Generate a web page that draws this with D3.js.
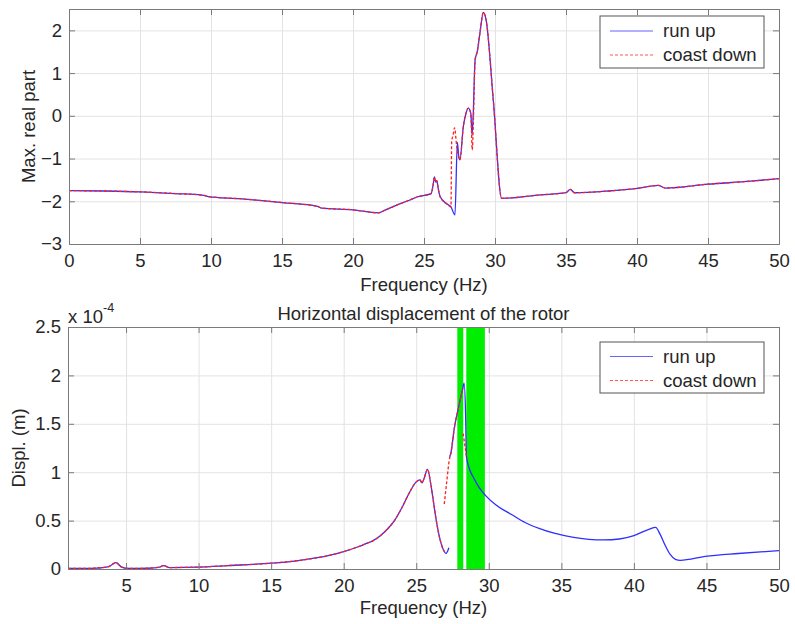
<!DOCTYPE html>
<html>
<head>
<meta charset="utf-8">
<script src="https://cdn.jsdelivr.net/npm/d3@7"></script>
<style>
  body { margin: 0; background: #fff; }
  svg { display: block; font-family: "Liberation Sans", Arial, Helvetica, sans-serif; }
  .tick text { fill: #262626; font-size: 18.5px; }
  .axis path, .axis line { stroke: #7a7a7a; }
  .grid line { stroke: #e3e3e3; }
  .grid path { display: none; }
</style>
</head>
<body>
<script>
// ---------------- DATA ----------------
// Top panel: maximum real part vs frequency (Hz)
const topRunUp = [
  [0,-1.75],[2.5,-1.76],[5,-1.78],[7.5,-1.82],[9.5,-1.86],[9.8,-1.89],[12,-1.94],[15,-2.03],
  [17.5,-2.12],[17.8,-2.16],[20,-2.2],[21.8,-2.27],[22.3,-2.2],[23,-2.1],[24,-1.97],[24.5,-1.9],
  [25.5,-1.82],[25.65,-1.6],[25.73,-1.43],[25.82,-1.55],[25.9,-1.52],[26.0,-1.7],[26.13,-1.89],
  [26.6,-2.06],[26.9,-2.13],[27.18,-2.32],[27.35,-0.62],[27.45,-0.95],[27.53,-1.03],[27.77,-0.25],
  [27.95,0.05],[28.12,0.18],[28.3,0.05],[28.38,-0.45],[28.45,-0.1],[28.6,1.31],[28.75,1.5],
  [28.94,1.94],[29.18,2.42],[29.37,2.25],[29.88,0.37],[30.47,-1.93],[33.2,-1.85],[35,-1.8],
  [35.3,-1.72],[35.6,-1.8],[38,-1.76],[40,-1.7],[41.5,-1.63],[42,-1.69],[45,-1.6],[48,-1.53],[50,-1.47]
];
const topCoastDown = [
  [0,-1.75],[2.5,-1.76],[5,-1.78],[7.5,-1.82],[9.5,-1.86],[9.8,-1.89],[12,-1.94],[15,-2.03],
  [17.5,-2.12],[17.8,-2.16],[20,-2.2],[21.8,-2.27],[22.3,-2.2],[23,-2.1],[24,-1.97],[24.5,-1.9],
  [25.5,-1.82],[25.65,-1.6],[25.73,-1.43],[25.82,-1.55],[25.9,-1.52],[26.0,-1.7],[26.13,-1.89],
  [26.6,-2.06],[26.9,-2.13],[26.95,-0.6],[27.05,-0.45],[27.15,-0.28],[27.3,-0.7],[27.53,-1.03],
  [27.77,-0.25],[27.95,0.05],[28.12,0.18],[28.3,0.05],[28.4,-0.8],[28.48,-0.1],[28.6,1.31],
  [28.75,1.5],[28.94,1.94],[29.18,2.42],[29.37,2.25],[29.88,0.37],[30.47,-1.93],[33.2,-1.85],
  [35,-1.8],[35.3,-1.72],[35.6,-1.8],[38,-1.76],[40,-1.7],[41.5,-1.63],[42,-1.69],[45,-1.6],[48,-1.53],[50,-1.47]
];
// Bottom panel: horizontal displacement (x 1e-4 m) vs frequency (Hz); null = gap
const botRunUp = [
  [1,0.005],[2,0.005],[3,0.01],[3.8,0.025],[4.3,0.065],[4.7,0.02],[5.2,0.005],[6.5,0.008],
  [7.3,0.02],[7.6,0.035],[8.0,0.015],[10,0.02],[12,0.035],[15,0.06],[17,0.09],[19,0.14],
  [20,0.18],[21,0.23],[21.5,0.26],[22,0.29],[22.5,0.34],[23,0.41],[23.5,0.5],[24,0.63],
  [24.5,0.78],[25,0.9],[25.25,0.92],[25.4,0.89],[25.55,0.94],[25.78,1.03],[26.0,0.88],
  [26.2,0.68],[26.36,0.52],[26.7,0.27],[26.9,0.19],[27.05,0.16],[27.15,0.18],[27.25,0.22],
  null,
  [27.3,1.16],[27.39,1.2],[27.62,1.45],[27.96,1.7],[28.2,1.86],[28.3,1.92],[28.4,1.6],[28.46,1.16],
  [28.7,1.02],[29.0,0.93],[29.34,0.84],[29.8,0.755],[30.5,0.66],[31.6,0.56],[32.5,0.48],[33.46,0.42],
  [34.5,0.37],[35.75,0.33],[37.93,0.3],[39,0.31],[40,0.345],[41.03,0.41],[41.5,0.43],[41.8,0.36],
  [42.17,0.24],[42.5,0.15],[42.86,0.1],[43.2,0.09],[44.92,0.13],[47.2,0.16],[50,0.19]
];
const botCoastDown = [
  [1,0.005],[2,0.005],[3,0.01],[3.8,0.025],[4.3,0.065],[4.7,0.02],[5.2,0.005],[6.5,0.008],
  [7.3,0.02],[7.6,0.035],[8.0,0.015],[10,0.02],[12,0.035],[15,0.06],[17,0.09],[19,0.14],
  [20,0.18],[21,0.23],[21.5,0.26],[22,0.29],[22.5,0.34],[23,0.41],[23.5,0.5],[24,0.63],
  [24.5,0.78],[25,0.9],[25.25,0.92],[25.4,0.89],[25.55,0.94],[25.78,1.03],[26.0,0.88],
  [26.2,0.68],[26.36,0.52],[26.7,0.27],[26.9,0.19],[27.0,0.17],
  null,
  [26.93,0.67],[27.1,0.9],[27.27,1.12],[27.39,1.2],[27.62,1.45],[27.96,1.7],[28.2,1.86],
  null,
  [28.23,1.4],[28.35,1.28],[28.46,1.16]
];
// Green highlighted frequency bands (Hz)
const greenBands = [[27.83,28.24],[28.45,29.73]];
const seriesNames = ["run up","coast down"];
const topXTicks = [0,5,10,15,20,25,30,35,40,45,50];
const topYTicks = [-3,-2,-1,0,1,2];
const botXTicks = [5,10,15,20,25,30,35,40,45,50];
const botYTicks = [0,0.5,1,1.5,2,2.5];

// ---------------- DRAW ----------------
const W = 795, H = 624;
const svg = d3.select("body").append("svg").attr("width", W).attr("height", H);
svg.append("rect").attr("width", W).attr("height", H).attr("fill", "#fff");

const BLUE = "#2f2fff", RED = "#ff1f1f";
const FS = 18.5;

function panel(cfg) {
  const x = d3.scaleLinear().domain(cfg.xDomain).range([cfg.left, cfg.right]);
  const y = d3.scaleLinear().domain(cfg.yDomain).range([cfg.bottom, cfg.top]);
  const g = svg.append("g");
  const h = cfg.bottom - cfg.top, w = cfg.right - cfg.left;

  // grid
  g.append("g").attr("class","grid").attr("transform",`translate(0,${cfg.bottom})`)
    .call(d3.axisBottom(x).tickValues(cfg.xTicks).tickSize(-h).tickFormat(""));
  g.append("g").attr("class","grid").attr("transform",`translate(${cfg.left},0)`)
    .call(d3.axisLeft(y).tickValues(cfg.yTicks).tickSize(-w).tickFormat(""));

  // bands
  (cfg.bands || []).forEach(b => {
    g.append("rect").attr("x", x(b[0])).attr("y", cfg.top)
      .attr("width", x(b[1]) - x(b[0])).attr("height", h).attr("fill", "#00ee00");
  });

  const line = d3.line().defined(d => d != null).curve(d3.curveMonotoneX)
    .x(d => x(d[0])).y(d => y(d[1]));
  g.append("path").datum(cfg.s1).attr("d", line).attr("fill","none")
    .attr("stroke", BLUE).attr("stroke-width", 1.3);
  g.append("path").datum(cfg.s2).attr("d", line).attr("fill","none")
    .attr("stroke", RED).attr("stroke-width", 1.3).attr("stroke-dasharray","3,2");

  // axes (ticks inward, box)
  const fmt = cfg.yFmt;
  g.append("g").attr("class","axis").attr("transform",`translate(0,${cfg.bottom})`)
    .call(d3.axisBottom(x).tickValues(cfg.xTicks).tickSize(-6).tickPadding(10).tickFormat(d3.format("d")));
  g.append("g").attr("class","axis").attr("transform",`translate(0,${cfg.top})`)
    .call(d3.axisTop(x).tickValues(cfg.xTicks).tickSize(-6).tickFormat(""));
  g.append("g").attr("class","axis").attr("transform",`translate(${cfg.left},0)`)
    .call(d3.axisLeft(y).tickValues(cfg.yTicks).tickSize(-6).tickPadding(7).tickFormat(fmt));
  g.append("g").attr("class","axis").attr("transform",`translate(${cfg.right},0)`)
    .call(d3.axisRight(y).tickValues(cfg.yTicks).tickSize(-6).tickFormat(""));
  g.selectAll(".axis .domain").attr("stroke","#7a7a7a");
  g.selectAll(".tick text").attr("font-size", FS);

  // x label
  g.append("text").attr("x", (cfg.left + cfg.right)/2).attr("y", cfg.xLabelY)
    .attr("text-anchor","middle").attr("font-size", FS).attr("fill","#262626").text("Frequency (Hz)");
  // y label
  g.append("text").attr("transform",`translate(${cfg.yLabelX},${(cfg.top+cfg.bottom)/2}) rotate(-90)`)
    .attr("text-anchor","middle").attr("font-size", FS).attr("fill","#262626").text(cfg.yLabel);

  // legend
  const L = cfg.legend;
  const lg = g.append("g");
  lg.append("rect").attr("x", L.x).attr("y", L.y).attr("width", L.w).attr("height", L.h)
    .attr("fill","#fff").attr("stroke","#555").attr("stroke-width",1);
  seriesNames.forEach((name, i) => {
    const yy = L.row0 + i * 24;
    lg.append("line").attr("x1", L.x + 10).attr("x2", L.x + 53).attr("y1", yy).attr("y2", yy)
      .attr("stroke", i === 0 ? BLUE : RED).attr("stroke-width", 1)
      .attr("stroke-dasharray", i === 0 ? null : "3,2").attr("opacity", 0.75);
    lg.append("text").attr("x", L.x + 63).attr("y", yy).attr("dy","0.35em")
      .attr("font-size", FS).attr("fill","#262626").text(name);
  });
  return { x, y, g };
}

panel({
  left: 69, right: 779, top: 9, bottom: 244,
  xDomain: [0, 50], yDomain: [-3, 2.5],
  xTicks: topXTicks, yTicks: topYTicks, yFmt: d3.format("d"),
  s1: topRunUp, s2: topCoastDown,
  xLabelY: 290.5, yLabelX: 35, yLabel: "Max. real part",
  legend: { x: 600, y: 16, w: 164, h: 52, row0: 31 }
});

panel({
  left: 68, right: 779, top: 327, bottom: 569,
  xDomain: [1, 50], yDomain: [0, 2.5],
  xTicks: botXTicks, yTicks: botYTicks, yFmt: d => String(d),
  s1: botRunUp, s2: botCoastDown, bands: greenBands,
  xLabelY: 613.5, yLabelX: 25, yLabel: "Displ. (m)",
  legend: { x: 600, y: 342, w: 164, h: 51, row0: 356.5 }
});

// title and exponent
svg.append("text").attr("x", 423.5).attr("y", 320).attr("text-anchor","middle")
  .attr("font-size", FS).attr("fill","#262626").text("Horizontal displacement of the rotor");
const ex = svg.append("text").attr("x", 68).attr("y", 323).attr("font-size", FS).attr("fill","#262626");
ex.append("tspan").text("x 10");
ex.append("tspan").attr("dy", -11).attr("font-size", 12.5).text("-4");
</script>
</body>
</html>
